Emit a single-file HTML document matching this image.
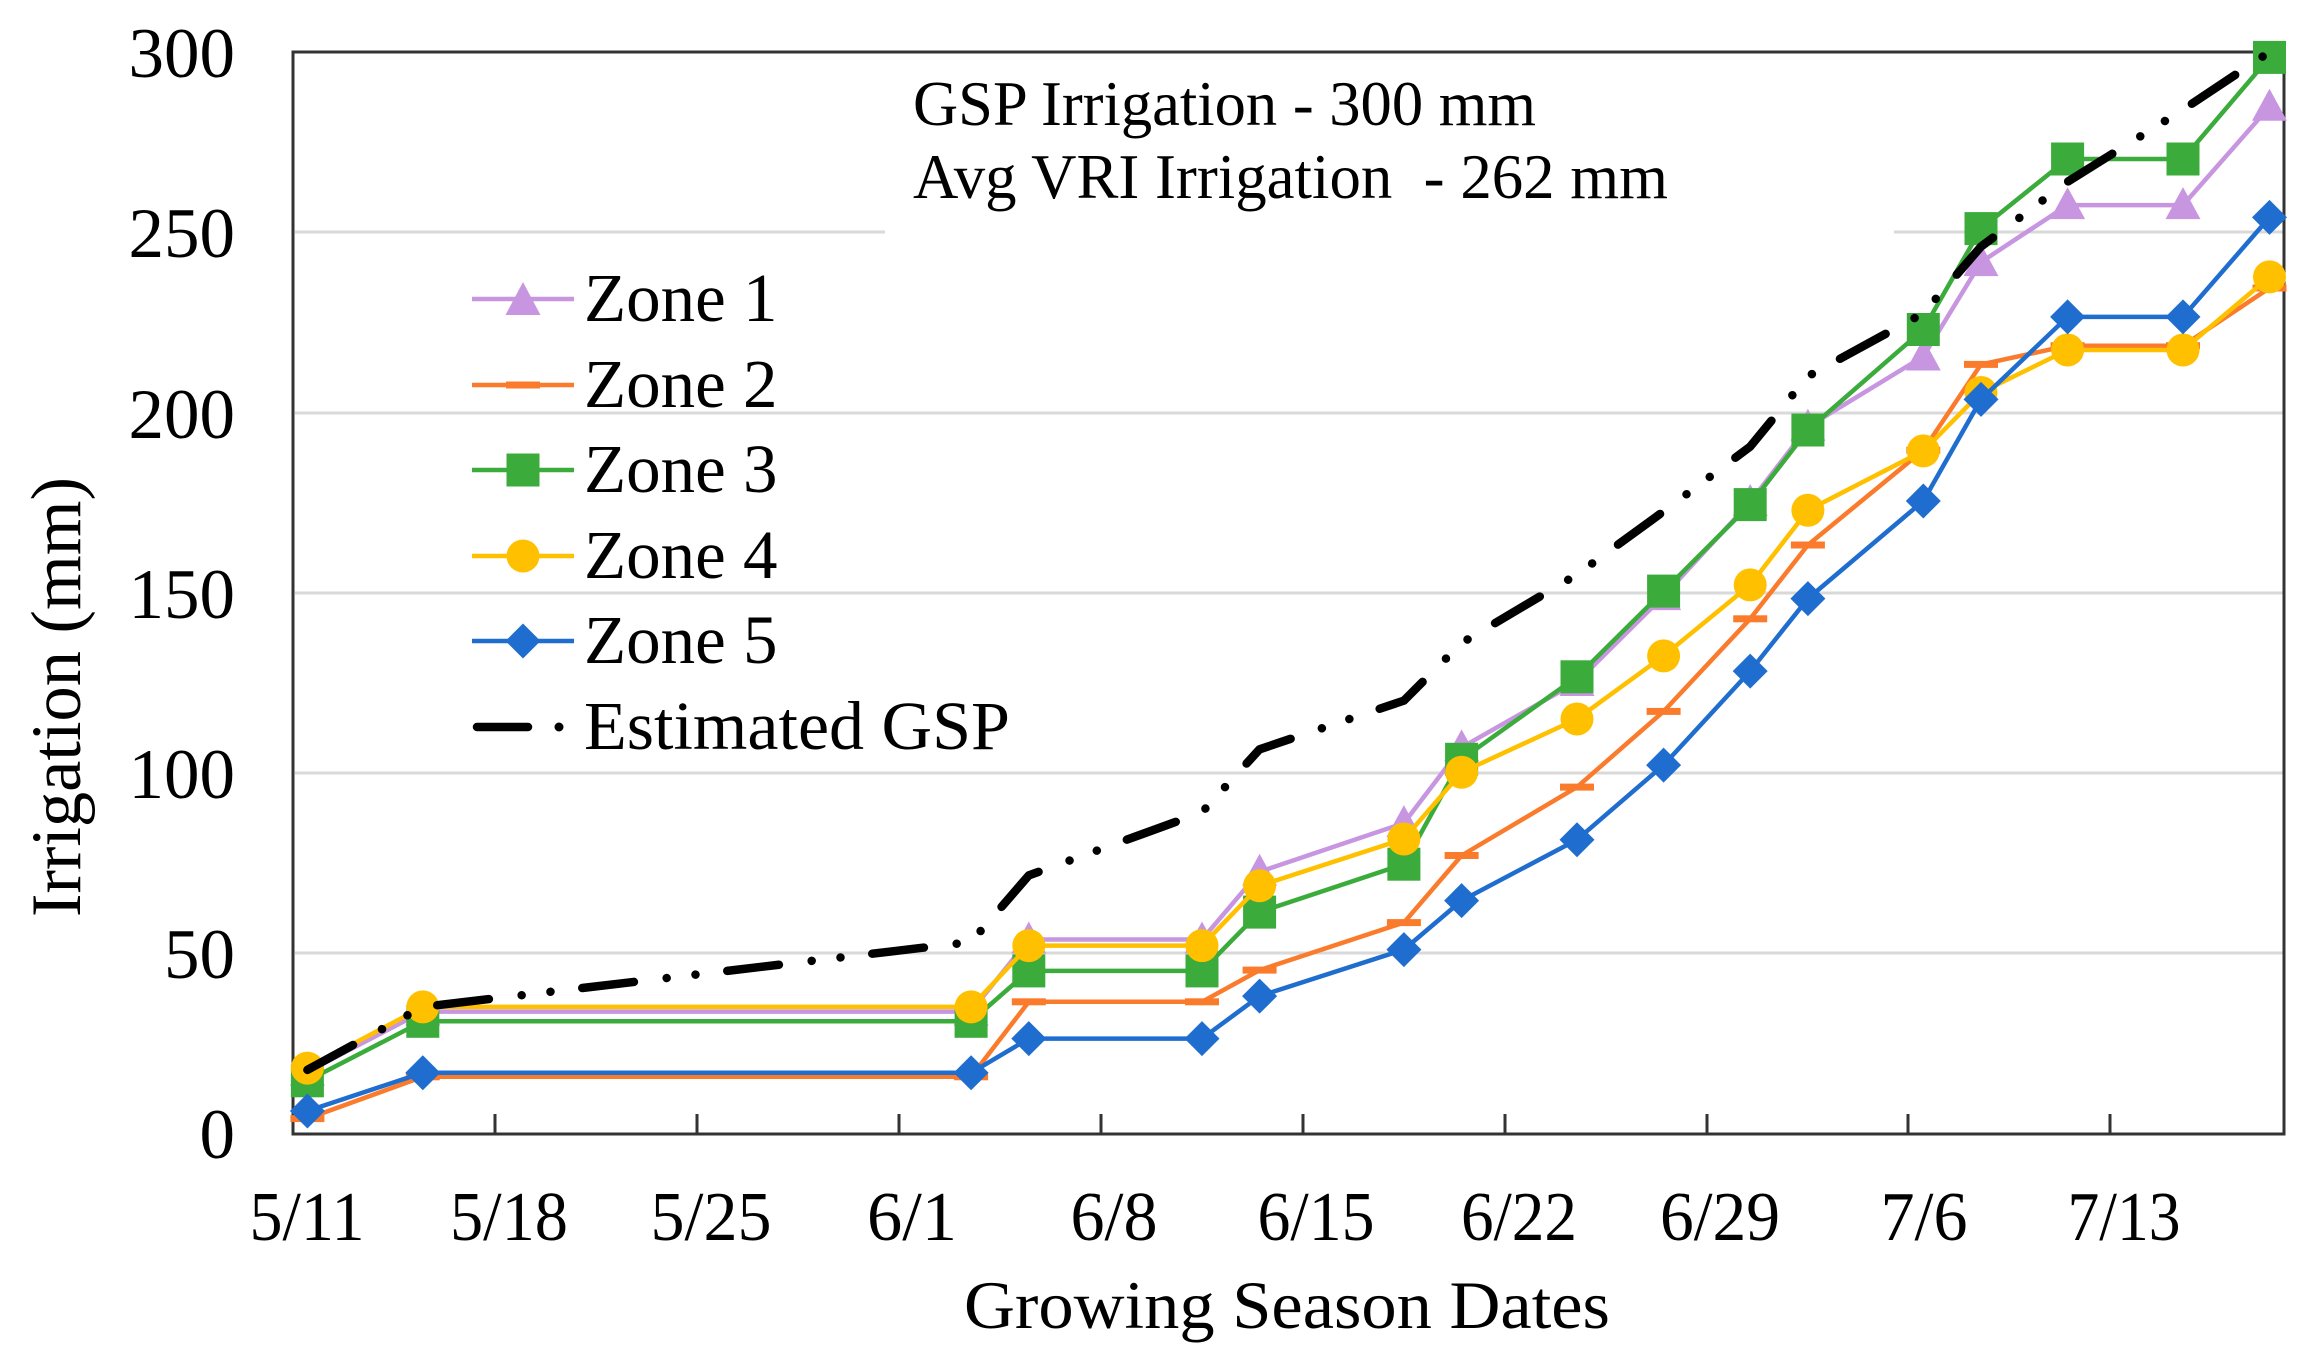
<!DOCTYPE html>
<html>
<head>
<meta charset="utf-8">
<style>
html,body{margin:0;padding:0;background:#fff;}
svg{display:block;}
text{font-family:"Liberation Serif","Times New Roman",serif;fill:#000;}
</style>
</head>
<body>
<svg width="2302" height="1366" viewBox="0 0 2302 1366" xmlns="http://www.w3.org/2000/svg">
<defs>
  <marker id="mTri" markerUnits="userSpaceOnUse" markerWidth="36" markerHeight="34" refX="18" refY="19" viewBox="0 0 36 34" overflow="visible">
    <path d="M18 1 L35.5 33 L0.5 33 Z" fill="#c896e0"/>
  </marker>
  <marker id="mDash" markerUnits="userSpaceOnUse" markerWidth="34" markerHeight="8" refX="17" refY="4" viewBox="0 0 34 8" overflow="visible">
    <rect x="0" y="0.5" width="34" height="7" fill="#fb7b2c"/>
  </marker>
  <marker id="mSq" markerUnits="userSpaceOnUse" markerWidth="34" markerHeight="34" refX="17" refY="17" viewBox="0 0 34 34" overflow="visible">
    <rect x="0.5" y="0.5" width="33" height="33" fill="#3bab3b"/>
  </marker>
  <marker id="mCir" markerUnits="userSpaceOnUse" markerWidth="34" markerHeight="34" refX="17" refY="17" viewBox="0 0 34 34" overflow="visible">
    <circle cx="17" cy="17" r="16.5" fill="#ffc000"/>
  </marker>
  <marker id="mDia" markerUnits="userSpaceOnUse" markerWidth="36" markerHeight="36" refX="18" refY="18" viewBox="0 0 36 36" overflow="visible">
    <path d="M18 0.5 L35.5 18 L18 35.5 L0.5 18 Z" fill="#1f6ecf"/>
  </marker>
</defs>

<rect x="0" y="0" width="2302" height="1366" fill="#fff"/>

<!-- gridlines -->
<g stroke="#d9d9d9" stroke-width="3">
  <line x1="295" y1="953" x2="2283" y2="953"/>
  <line x1="295" y1="773" x2="2283" y2="773"/>
  <line x1="295" y1="593" x2="2283" y2="593"/>
  <line x1="295" y1="413" x2="2283" y2="413"/>
  <line x1="295" y1="232" x2="2283" y2="232"/>
</g>

<!-- annotation background box -->
<rect x="885" y="60" width="1009" height="185" fill="#fff"/>

<!-- plot frame -->
<rect x="293" y="52" width="1991" height="1082" fill="none" stroke="#333" stroke-width="3"/>

<!-- x ticks (inside) -->
<g stroke="#333" stroke-width="3">
  <line x1="495" y1="1134" x2="495" y2="1114"/>
  <line x1="697" y1="1134" x2="697" y2="1114"/>
  <line x1="899" y1="1134" x2="899" y2="1114"/>
  <line x1="1101" y1="1134" x2="1101" y2="1114"/>
  <line x1="1303" y1="1134" x2="1303" y2="1114"/>
  <line x1="1505" y1="1134" x2="1505" y2="1114"/>
  <line x1="1707" y1="1134" x2="1707" y2="1114"/>
  <line x1="1908" y1="1134" x2="1908" y2="1114"/>
  <line x1="2110" y1="1134" x2="2110" y2="1114"/>
</g>

<!-- y tick labels -->
<g font-size="71" text-anchor="end">
  <text x="235" y="77">300</text>
  <text x="235" y="257">250</text>
  <text x="235" y="438">200</text>
  <text x="235" y="618">150</text>
  <text x="235" y="798">100</text>
  <text x="235" y="978">50</text>
  <text x="235" y="1158">0</text>
</g>

<!-- x tick labels -->
<g font-size="70" text-anchor="middle">
  <text x="307" y="1240" textLength="115" lengthAdjust="spacingAndGlyphs">5/11</text>
  <text x="509" y="1240" textLength="118" lengthAdjust="spacingAndGlyphs">5/18</text>
  <text x="711" y="1240" textLength="121" lengthAdjust="spacingAndGlyphs">5/25</text>
  <text x="912" y="1240" textLength="90" lengthAdjust="spacingAndGlyphs">6/1</text>
  <text x="1114" y="1240" textLength="87" lengthAdjust="spacingAndGlyphs">6/8</text>
  <text x="1316" y="1240" textLength="117" lengthAdjust="spacingAndGlyphs">6/15</text>
  <text x="1519" y="1240" textLength="116" lengthAdjust="spacingAndGlyphs">6/22</text>
  <text x="1720" y="1240" textLength="120" lengthAdjust="spacingAndGlyphs">6/29</text>
  <text x="1924" y="1240" textLength="87" lengthAdjust="spacingAndGlyphs">7/6</text>
  <text x="2124" y="1240" textLength="113" lengthAdjust="spacingAndGlyphs">7/13</text>
</g>

<!-- axis titles -->
<text x="1287" y="1328" font-size="68" text-anchor="middle" textLength="646" lengthAdjust="spacingAndGlyphs">Growing Season Dates</text>
<text transform="translate(80,697) rotate(-90)" x="0" y="0" font-size="71" text-anchor="middle" textLength="440" lengthAdjust="spacingAndGlyphs">Irrigation (mm)</text>

<!-- annotation -->
<text x="913" y="125" font-size="64" textLength="623" lengthAdjust="spacingAndGlyphs">GSP Irrigation - 300 mm</text>
<text x="913" y="198" font-size="64" textLength="755" lengthAdjust="spacingAndGlyphs" xml:space="preserve">Avg VRI Irrigation  - 262 mm</text>

<!-- series -->
<g fill="none" stroke-linejoin="round">
  <!-- Zone 1 -->
  <polyline stroke="#c896e0" stroke-width="4.5" marker-start="url(#mTri)" marker-mid="url(#mTri)" marker-end="url(#mTri)"
    points="307.4,1071.7 422.8,1011.6 971.1,1011.6 1028.8,939.5 1202.0,939.5 1259.6,871.8 1403.9,823.1 1461.6,747.4 1577.0,682.0 1663.6,596.1 1750.2,502.0 1807.9,426.8 1923.3,356.5 1981.0,262.1 2067.6,205.1 2183.0,205.1 2269.5,106.8"/>
  <!-- Zone 2 -->
  <polyline stroke="#fb7b2c" stroke-width="4.5" marker-start="url(#mDash)" marker-mid="url(#mDash)" marker-end="url(#mDash)"
    points="307.4,1118.6 422.8,1076.8 971.1,1076.8 1028.8,1001.8 1202.0,1001.8 1259.6,970.1 1403.9,922.6 1461.6,855.5 1577.0,787.1 1663.6,711.4 1750.2,618.8 1807.9,545.0 1923.3,450.2 1981.0,364.4 2067.6,345.7 2183.0,345.7 2269.5,288.0"/>
  <!-- Zone 3 -->
  <polyline stroke="#3bab3b" stroke-width="4.5" marker-start="url(#mSq)" marker-mid="url(#mSq)" marker-end="url(#mSq)"
    points="307.4,1080.8 422.8,1021.3 971.1,1021.3 1028.8,970.9 1202.0,970.9 1259.6,912.1 1403.9,864.2 1461.6,759.3 1577.0,676.8 1663.6,591.1 1750.2,504.6 1807.9,430.0 1923.3,329.5 1981.0,228.6 2067.6,159.0 2183.0,159.0 2269.5,57.4"/>
  <!-- Zone 4 -->
  <polyline stroke="#ffc000" stroke-width="4.5" marker-start="url(#mCir)" marker-mid="url(#mCir)" marker-end="url(#mCir)"
    points="307.4,1068.1 422.8,1006.9 971.1,1006.9 1028.8,945.6 1202.0,945.6 1259.6,885.8 1403.9,839.0 1461.6,772.3 1577.0,719.0 1663.6,655.9 1750.2,584.9 1807.9,510.3 1923.3,450.9 1981.0,392.5 2067.6,350.0 2183.0,350.0 2269.5,276.9"/>
  <!-- Zone 5 -->
  <polyline stroke="#1f6ecf" stroke-width="4.5" marker-start="url(#mDia)" marker-mid="url(#mDia)" marker-end="url(#mDia)"
    points="307.4,1111.0 422.8,1072.8 971.1,1072.8 1028.8,1038.6 1202.0,1038.6 1259.6,996.1 1403.9,949.6 1461.6,900.6 1577.0,839.7 1663.6,765.1 1750.2,671.1 1807.9,598.6 1923.3,501.0 1981.0,399.4 2067.6,316.9 2183.0,316.9 2269.5,217.4"/>
  <!-- Estimated GSP -->
  <polyline stroke="#000" stroke-width="8.5" stroke-linecap="round" stroke-dasharray="52 33 0.01 29 0.01 32"
    points="307.4,1069.9 422.8,1006.9 971.1,942.0 1028.8,875.4 1202.0,812.3 1259.6,749.3 1403.9,700.6 1461.6,643.0 1577.0,574.5 1663.6,511.4 1750.2,446.6 1807.9,376.3 1923.3,313.3 1981.0,246.6 2067.6,181.7 2183.0,109.7 2269.5,52.0"/>
</g>

<!-- legend -->
<g>
  <line x1="472" y1="299" x2="574" y2="299" stroke="#c896e0" stroke-width="4.5"/>
  <path d="M523 282 L540.5 315 L505.5 315 Z" fill="#c896e0"/>
  <text x="584" y="321" font-size="69">Zone 1</text>

  <line x1="472" y1="385" x2="574" y2="385" stroke="#fb7b2c" stroke-width="4.5"/>
  <rect x="506" y="381.5" width="34" height="7" fill="#fb7b2c"/>
  <text x="584" y="407" font-size="69">Zone 2</text>

  <line x1="472" y1="470" x2="574" y2="470" stroke="#3bab3b" stroke-width="4.5"/>
  <rect x="506.5" y="453.5" width="33" height="33" fill="#3bab3b"/>
  <text x="584" y="492" font-size="69">Zone 3</text>

  <line x1="472" y1="556" x2="574" y2="556" stroke="#ffc000" stroke-width="4.5"/>
  <circle cx="523" cy="556" r="16.5" fill="#ffc000"/>
  <text x="584" y="578" font-size="69">Zone 4</text>

  <line x1="472" y1="641" x2="574" y2="641" stroke="#1f6ecf" stroke-width="4.5"/>
  <path d="M523 623.5 L540.5 641 L523 658.5 L505.5 641 Z" fill="#1f6ecf"/>
  <text x="584" y="663" font-size="69">Zone 5</text>

  <line x1="477" y1="727" x2="528" y2="727" stroke="#000" stroke-width="8.5" stroke-linecap="round"/>
  <circle cx="559" cy="727" r="4.5" fill="#000"/>
  <text x="584" y="749" font-size="69" textLength="426" lengthAdjust="spacingAndGlyphs">Estimated GSP</text>
</g>
</svg>
</body>
</html>
